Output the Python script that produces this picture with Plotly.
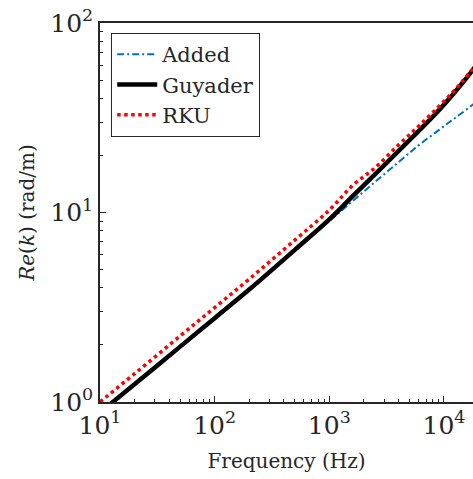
import plotly.graph_objects as go

freq = [10, 20, 50, 100, 200, 500, 1000, 1600, 2500, 4000, 6000, 9000, 12000, 15000, 18000, 20000]
added = [0.88, 1.24, 1.96, 2.77, 3.92, 6.3, 9.0, 11.5, 14.5, 18.4, 22.6, 27.2, 31.0, 34.2, 37.2, 39.0]
guyader = [0.88, 1.24, 1.96, 2.77, 3.92, 6.35, 9.2, 12.2, 15.9, 21.1, 26.9, 34.6, 42.1, 49.5, 57.0, 62.5]
rku = [1.0, 1.41, 2.23, 3.15, 4.45, 7.15, 10.3, 13.9, 17.2, 22.7, 28.5, 36.2, 43.3, 50.5, 57.8, 63.0]

x_major = [10, 100, 1000, 10000]
x_labels = ["10<sup>1</sup>", "10<sup>2</sup>", "10<sup>3</sup>", "10<sup>4</sup>"]
y_major = [1, 10, 100]
y_labels = ["10<sup>0</sup>", "10<sup>1</sup>", "10<sup>2</sup>"]

x_minor = [m * d for d in (10, 100, 1000, 10000) for m in range(2, 10)]
y_minor = [m * d for d in (1, 10) for m in range(2, 10)]

FONT = "DejaVu Serif"
AX = "#262626"

fig = go.Figure()
fig.add_trace(go.Scatter(x=freq, y=added, name="Added", mode="lines", line_shape="spline",
                         line=dict(color="#0072BD", width=2, dash="7px,3px,2px,3px")))
fig.add_trace(go.Scatter(x=freq, y=guyader, name="Guyader", mode="lines", line_shape="spline",
                         line=dict(color="black", width=4.5)))
fig.add_trace(go.Scatter(x=freq, y=rku, name="RKU", mode="lines", line_shape="spline",
                         line=dict(color="#FF0000", width=3.5, dash="dot")))

fig.update_layout(
    width=473, height=479,
    margin=dict(l=100, r=0, t=23, b=77),
    paper_bgcolor="white", plot_bgcolor="white",
    font=dict(family=FONT, color=AX),
    showlegend=True,
    legend=dict(x=0.0295, y=0.974, xanchor="left", yanchor="top",
                bgcolor="white", bordercolor=AX, borderwidth=1.2,
                font=dict(size=21, family=FONT, color=AX),
                tracegroupgap=0, itemwidth=40),
    xaxis=dict(type="log", range=[1, 4.253], showgrid=False, zeroline=False,
               showline=True, linecolor=AX, linewidth=1.5, mirror=True,
               ticks="inside", ticklen=6, tickcolor=AX, tickwidth=1.2,
               tickmode="array", tickvals=x_major, ticktext=x_labels,
               tickfont=dict(size=25, family=FONT, color=AX),
               minor=dict(ticks="inside", ticklen=3.5, tickcolor=AX, tickwidth=1.2,
                          tickmode="array", tickvals=x_minor, showgrid=False),
               title=dict(text="Frequency (Hz)", font=dict(size=20, family=FONT, color=AX),
                          standoff=15)),
    yaxis=dict(type="log", range=[0, 2], showgrid=False, zeroline=False,
               showline=True, linecolor=AX, linewidth=1.5, mirror=False,
               ticks="inside", ticklen=6, tickcolor=AX, tickwidth=1.2,
               tickmode="array", tickvals=y_major, ticktext=y_labels,
               tickfont=dict(size=25, family=FONT, color=AX),
               minor=dict(ticks="inside", ticklen=3.5, tickcolor=AX, tickwidth=1.2,
                          tickmode="array", tickvals=y_minor, showgrid=False),
               title=dict(text="<i>Re</i>(<i>k</i>) (rad/m)",
                          font=dict(size=20, family=FONT, color=AX), standoff=10)),
)

fig.write_html("out.html", config={"displayModeBar": False},
               post_script="document.body.style.margin='0px';document.body.style.overflow='hidden';")
